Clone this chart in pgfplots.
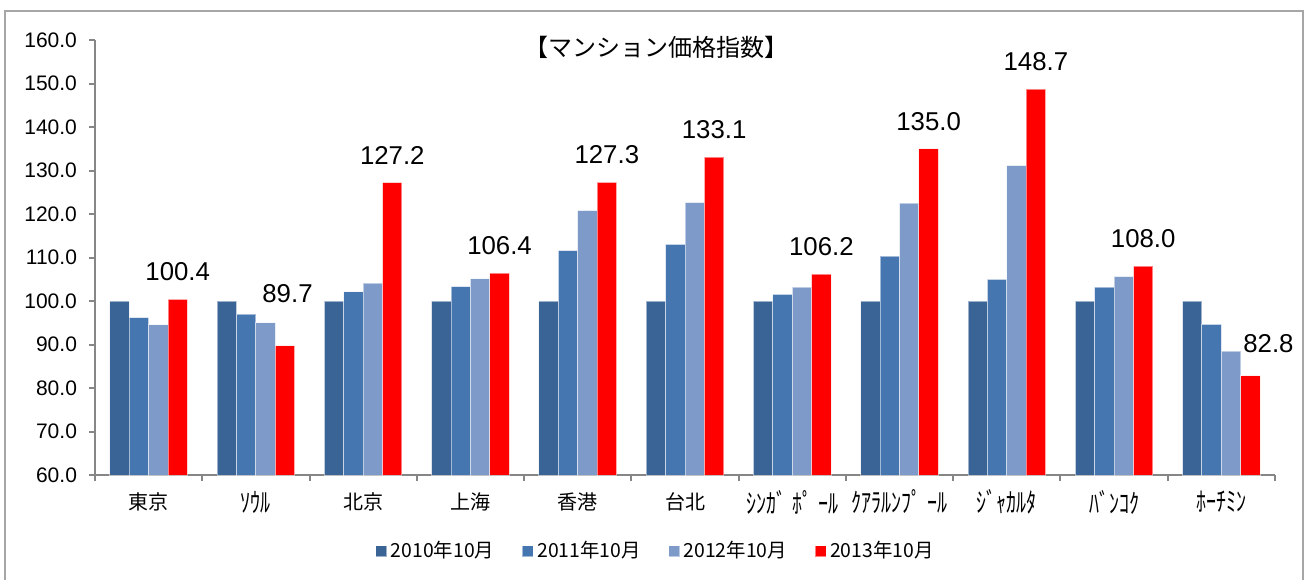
\documentclass[border=0pt]{standalone}
\usepackage{fontspec}
\setmainfont{Liberation Sans}
\newfontfamily\jp{Noto Sans CJK JP}
\usepackage{pgfplots}
\usepackage{pgfplotstable}
\pgfplotsset{compat=1.18}
\newcommand\kt[1]{\scalebox{1.0}[1.35]{#1}}
\definecolor{cA}{HTML}{3B6496}
\definecolor{cB}{HTML}{4676AF}
\definecolor{cC}{HTML}{7E9AC8}
\definecolor{cD}{HTML}{FF0000}
\definecolor{axisgray}{HTML}{868686}
\definecolor{framegray}{HTML}{A6A6A6}
\pgfplotstableread{
x y
0 100.0
1 100.0
2 100.0
3 100.0
4 100.0
5 100.0
6 100.0
7 100.0
8 100.0
9 100.0
10 100.0
}\tA
\pgfplotstableread{
x y
0 96.2
1 97.0
2 102.1
3 103.3
4 111.6
5 113.0
6 101.5
7 110.3
8 105.0
9 103.2
10 94.6
}\tB
\pgfplotstableread{
x y
0 94.5
1 95.0
2 104.1
3 105.1
4 120.8
5 122.6
6 103.2
7 122.5
8 131.1
9 105.6
10 88.5
}\tC
\pgfplotstableread{
x y dx dy
0 100.4 0 8.85
1 89.7 1.25 21.3
2 127.2 0 8.85
3 106.4 0 8.85
4 127.3 0 8.85
5 133.1 0 8.85
6 106.2 0 8.85
7 135.0 0 8.85
8 148.7 0 8.85
9 108.0 0 8.85
10 82.8 9 11.5
}\tD
\begin{document}
\begin{tikzpicture}
\begin{axis}[
  at={(0pt,0pt)}, anchor=south west,
  scale only axis, width=590pt, height=217.5pt,
  xmin=-0.5, xmax=10.5, ymin=60, ymax=160,
  axis x line*=bottom, axis y line*=left,
  axis line style={draw=axisgray, line width=1pt},
  tick align=outside,
  tick style={draw=axisgray, line width=1pt},
  major tick length=3pt,
  ybar=0pt, bar width=9.7pt,
  ytick={60,70,...,160},
  /pgf/number format/assume math mode=true,
  yticklabel style={font=\fontsize{10.5}{12}\selectfont, xshift=-2.5pt, /pgf/number format/.cd, fixed, fixed zerofill, precision=1},
  xtick={-0.5,0.5,...,10.5},
  xticklabels={},
  extra x ticks={0,1,2,3,4,5,6,7,8,9,10},
  extra x tick labels={東京,{\kt{ｿｳﾙ}},北京,上海,香港,台北,{\kt{ｼﾝｶﾞ\hspace{3pt}ﾎﾟ\hspace{3pt}ｰﾙ}},{\kt{ｸｱﾗﾙﾝﾌﾟ\hspace{3pt}ｰﾙ}},{\kt{ｼﾞｬｶﾙﾀ}},{\kt{ﾊﾞﾝｺｸ}},{\kt{ﾎｰﾁﾐﾝ}}},
  extra x tick style={major tick length=0pt, xticklabel style={font=\jp\fontsize{10}{12}\selectfont, anchor=center, yshift=-13.5pt}},
  legend columns=4,
  legend style={at={(0.476,-0.1747)}, anchor=center, draw=none, fill=none,
    font=\jp\fontsize{9.7}{11}\selectfont,
    /tikz/every even column/.append style={column sep=12pt}},
  clip=false,
]
\addplot[fill=cA, draw=white, draw opacity=0.5, line width=0.5pt,
  legend image code/.code={\fill[cA] (0pt,-2.5pt) rectangle (5pt,2.5pt);}] table[x=x,y=y] {\tA};
\addplot[fill=cB, draw=white, draw opacity=0.5, line width=0.5pt,
  legend image code/.code={\fill[cB] (0pt,-2.5pt) rectangle (5pt,2.5pt);}] table[x=x,y=y] {\tB};
\addplot[fill=cC, draw=white, draw opacity=0.5, line width=0.5pt,
  legend image code/.code={\fill[cC] (0pt,-2.5pt) rectangle (5pt,2.5pt);}] table[x=x,y=y] {\tC};
\addplot[fill=cD, draw=white, draw opacity=0.5, line width=0.5pt,
  legend image code/.code={\fill[cD] (0pt,-2.5pt) rectangle (5pt,2.5pt);},
  visualization depends on={\thisrow{dx} \as \dx},
  visualization depends on={\thisrow{dy} \as \dy},
  nodes near coords={\pgfmathprintnumber[fixed,fixed zerofill,precision=1]{\pgfplotspointmeta}},
  nodes near coords style={font=\fontsize{12.9}{14}\selectfont, text=black, inner sep=0pt, anchor=south, xshift=\dx pt, yshift=\dy pt},
  ] table[x=x,y=y] {\tD};
\legend{2010年10月,2011年10月,2012年10月,2013年10月}
\end{axis}
\node[font=\jp\fontsize{12}{14}\selectfont] at (280.5pt,214pt) {【マンション価格指数】};
\draw[framegray, line width=0.8pt] (-45pt,-60pt) -- (-45pt,232pt) -- (604pt,232pt) -- (604pt,-60pt);
\pgfresetboundingbox
\path[use as bounding box] (-47.5pt,-52pt) rectangle (605pt,237.5pt);
\end{tikzpicture}
\end{document}
